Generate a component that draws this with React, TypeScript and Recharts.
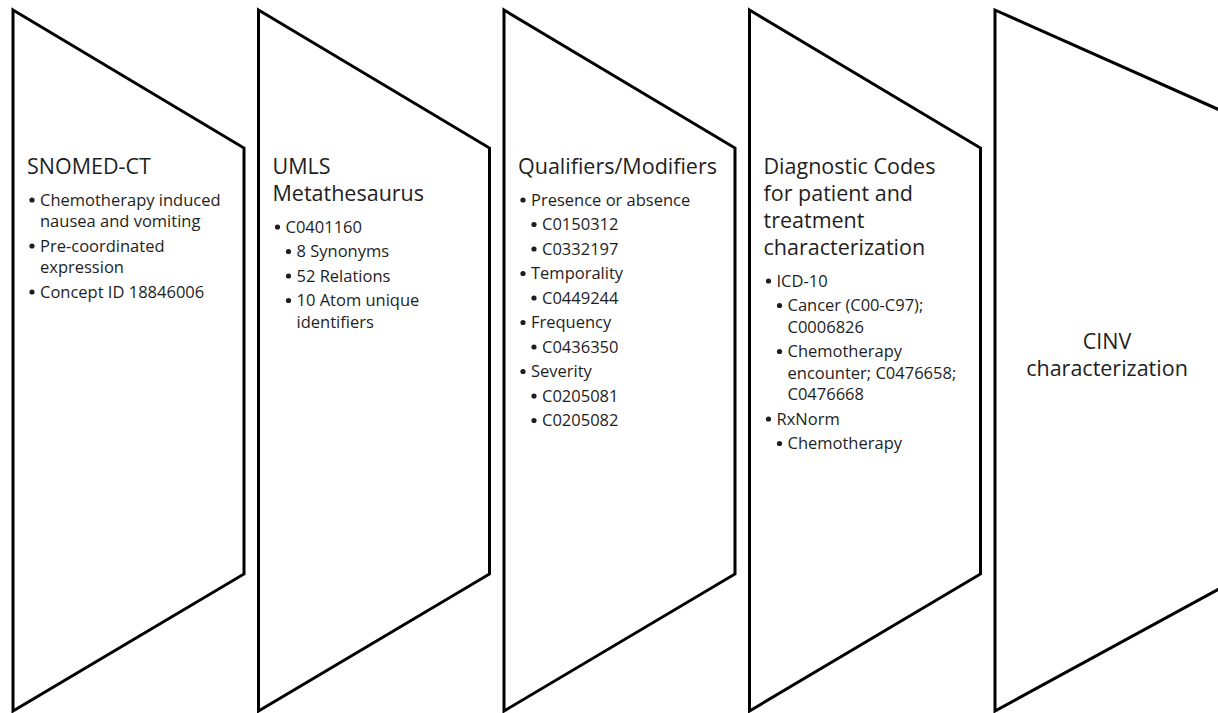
import { BarChart, Bar, XAxis, YAxis } from "recharts";

// stages of the CINV pipeline, left to right
const stages = ["SNOMED-CT", "UMLS", "Qualifiers", "Diagnostic", "CINV"];
const stageValues = [1, 1, 1, 1, 1];

const titleLines: string[][] = [
  ["SNOMED-CT"],
  ["UMLS", "Metathesaurus"],
  ["Qualifiers/Modifiers"],
  ["Diagnostic Codes", "for patient and", "treatment", "characterization"],
  ["CINV", "characterization"],
];

// [level, text, continuation of previous bullet]
type Line = [number, string, boolean];
const bulletLines: Line[][] = [
  [
    [1, " Chemotherapy induced", false],
    [1, "nausea and vomiting", true],
    [1, "Pre-coordinated", false],
    [1, "expression", true],
    [1, "Concept ID 18846006", false],
  ],
  [
    [1, "C0401160", false],
    [2, "8 Synonyms", false],
    [2, "52 Relations", false],
    [2, "10 Atom unique", false],
    [2, "identifiers", true],
  ],
  [
    [1, "Presence or absence", false],
    [2, "C0150312", false],
    [2, "C0332197", false],
    [1, "Temporality", false],
    [2, "C0449244", false],
    [1, "Frequency", false],
    [2, "C0436350", false],
    [1, "Severity", false],
    [2, "C0205081", false],
    [2, "C0205082", false],
  ],
  [
    [1, "ICD-10", false],
    [2, "Cancer (C00-C97);", false],
    [2, "C0006826", true],
    [2, "Chemotherapy", false],
    [2, "encounter; C0476658;", true],
    [2, "C0476668", true],
    [1, "RxNorm", false],
    [2, "Chemotherapy", false],
  ],
  [],
];

const data = stages.map((s, i) => ({ stage: s, value: stageValues[i] }));

const FONT = "'Open Sans', sans-serif";
const INK = "#1e1e1e";

function StageShape(props: any) {
  const { x, y, width, height, index } = props;
  const last = index === stages.length - 1;
  let points: string;
  if (last) {
    const ext = width * 2;
    points = `${x},${y} ${x + ext},${y + ext * 0.445} ${x + ext},${y + height - ext * 0.545} ${x},${y + height}`;
  } else {
    points = `${x},${y} ${x + width},${y + 138} ${x + width},${y + height - 137} ${x},${y + height}`;
  }

  const texts: JSX.Element[] = [];
  const titles = titleLines[index];
  if (last) {
    titles.forEach((t, i) => {
      texts.push(
        <text key={`t${i}`} x={x + 112} y={y + 330 + i * 27} textAnchor="middle" dominantBaseline="central"
          fontFamily={FONT} fontSize={21.5} fill={INK}>{t}</text>
      );
    });
  } else {
    let cy = y + 155;
    titles.forEach((t, i) => {
      if (i > 0) cy += 27;
      texts.push(
        <text key={`t${i}`} x={x + 14} y={cy} dominantBaseline="central"
          fontFamily={FONT} fontSize={21.5} fill={INK}>{t}</text>
      );
    });
    cy += 34;
    bulletLines[index].forEach(([level, t, cont], i) => {
      if (i > 0) cy += cont ? 21.5 : 24.5;
      const bx = level === 1 ? x + 19 : x + 30;
      const tx = level === 1 ? x + 27 : x + 38;
      if (!cont) {
        texts.push(
          <circle key={`b${i}`} cx={bx} cy={cy + 1} r={2.6} fill={INK} />
        );
      }
      texts.push(
        <text key={`l${i}`} x={tx} y={cy} dominantBaseline="central"
          fontFamily={FONT} fontSize={16.5} fill={INK}>{t}</text>
      );
    });
  }

  return (
    <g>
      <polygon points={points} fill="#fff" stroke="#000" strokeWidth={3} strokeLinejoin="miter" />
      {texts}
    </g>
  );
}

export default function App() {
  return (
    <div style={{ width: 1218, height: 713, overflow: "hidden", background: "#fff" }}>
      <style>{"body{margin:0}"}</style>
      <BarChart width={1240} height={713} data={data} margin={{ top: 10, right: 6.5, left: 6, bottom: 2 }} barSize={231}>
        <XAxis dataKey="stage" hide />
        <YAxis domain={[0, 1]} hide />
        <Bar dataKey="value" isAnimationActive={false} shape={<StageShape />} />
      </BarChart>
    </div>
  );
}
